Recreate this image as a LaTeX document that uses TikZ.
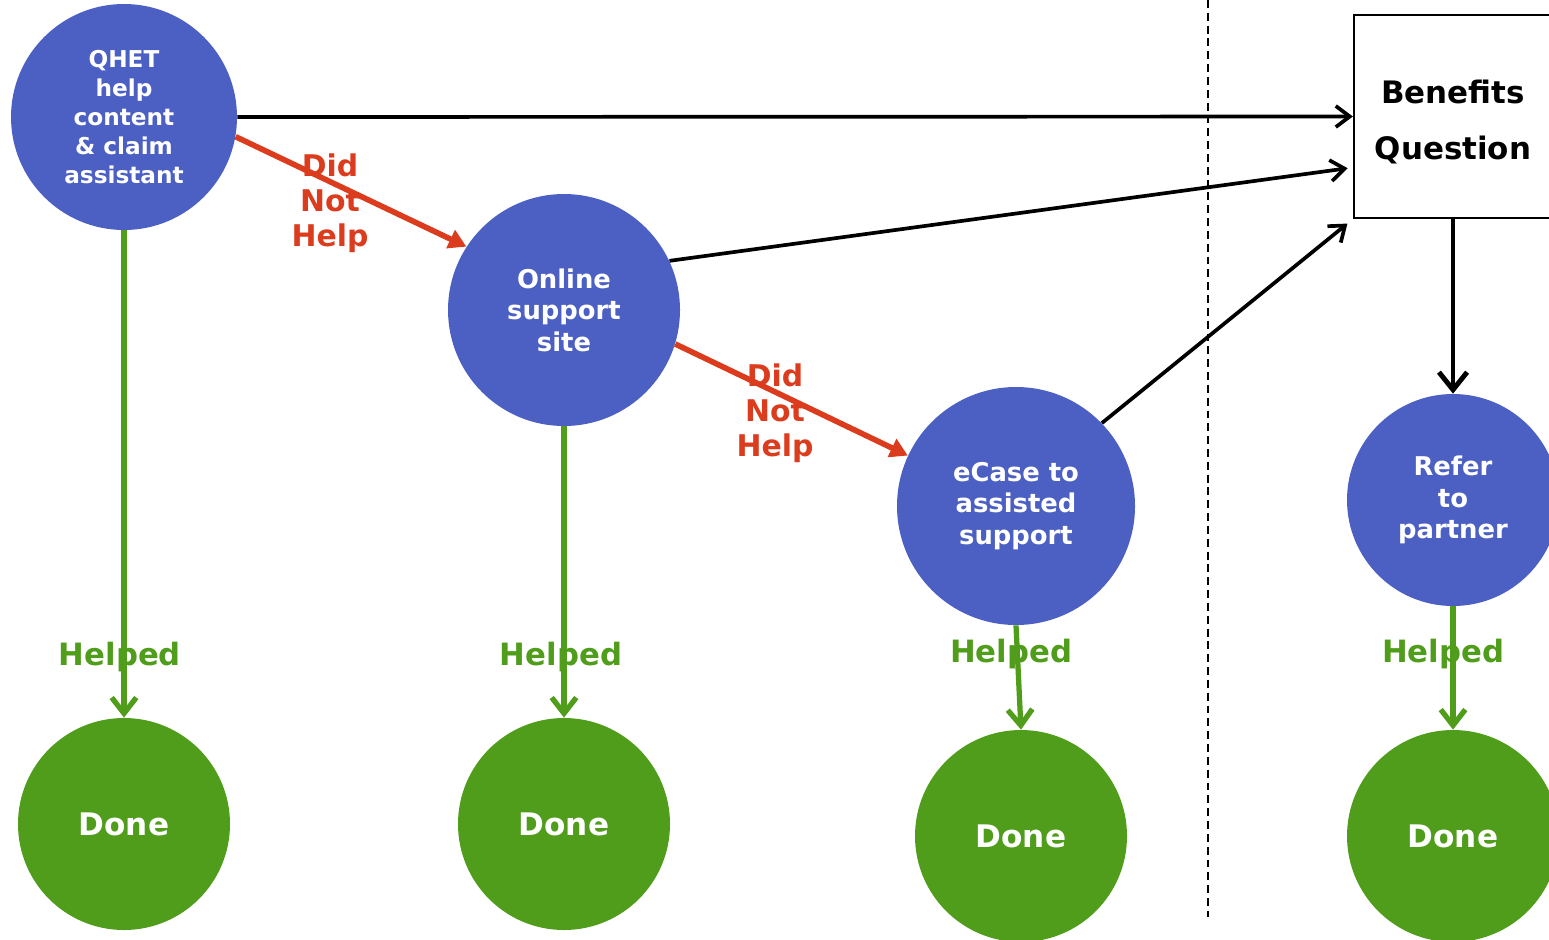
\documentclass[tikz,border=0pt]{standalone}
\usepackage{fontspec}
\setmainfont{DejaVu Sans}
\usetikzlibrary{arrows.meta}
\definecolor{stepblue}{RGB}{75,96,194}
\definecolor{donegreen}{RGB}{80,157,28}
\definecolor{nothelp}{RGB}{220,60,30}

\begin{document}
\begin{tikzpicture}[
  every node/.style={font=\bfseries, align=center},
  stepnode/.style={circle, fill=stepblue, text=white, minimum size=#1, inner sep=0pt, font=\bfseries\fontsize{14.7}{18}\selectfont},
  donenode/.style={circle, fill=donegreen, text=white, minimum size=4.24cm, inner sep=0pt, font=\bfseries\fontsize{17.7}{21}\selectfont},
  helpedlabel/.style={text=donegreen, font=\bfseries\fontsize{17.5}{20}\selectfont},
  notlabel/.style={text=nothelp, font=\bfseries\fontsize{17}{20}\selectfont},
  helpedline/.style={draw=donegreen, line width=3pt, -{Straight Barb[length=9pt,width=14pt]}},
  notline/.style={draw=nothelp, line width=3.2pt, -{Triangle[length=10pt,width=11pt]}},
  askline/.style={draw=black, line width=2.1pt, -{Straight Barb[length=8pt,width=12pt]}}
]
  \useasboundingbox (0,0) rectangle (30.98,-18.78);

  \node[stepnode=4.52cm, font=\bfseries\fontsize{13.2}{16.5}\selectfont] (qhet) at (2.48,-2.34) {QHET\\help\\content\\\& claim\\assistant};
  \node[stepnode=4.64cm] (online) at (11.28,-6.2) {Online\\support\\site};
  \node[stepnode=4.76cm] (ecase) at (20.32,-10.12) {eCase to\\assisted\\support};
  \node[stepnode=4.24cm] (refer) at (29.06,-10.0) {Refer\\to\\partner};
  \node[draw, line width=1.3pt, minimum width=3.96cm, minimum height=4.06cm, font=\bfseries\fontsize{17.6}{32}\selectfont] (benefits) at (29.06,-2.33) {\rule{0pt}{20pt}Benefits\\Question};

  \node[donenode] (done1) at (2.48,-16.48) {Done};
  \node[donenode] (done2) at (11.28,-16.48) {Done};
  \node[donenode] (done3) at (20.42,-16.72) {Done};
  \node[donenode] (done4) at (29.06,-16.72) {Done};

  \coordinate (divtop) at (24.16,0);
  \coordinate (divbot) at (24.16,-18.34);
  \draw[line width=1.1pt, dash pattern=on 4.5pt off 2.8pt] (divtop) -- (divbot);

  \draw[askline] (qhet.east) -- (benefits.west);
  \draw[askline, shorten >=3pt] (online.25) -- (benefits.207);
  \draw[askline, shorten >=4pt] (ecase.44) -- (benefits.south west);
  \draw[draw=black, line width=2.8pt, -{Straight Barb[length=10pt,width=16pt]}] (benefits.south) -- (refer.north);

  \draw[notline] (qhet.-10) -- (online.147);
  \draw[notline] (online.-17) -- (ecase.155);

  \draw[helpedline] (qhet.south) -- (done1.north);
  \draw[helpedline] (online.south) -- (done2.north);
  \draw[helpedline] (ecase.south) -- (done3.north);
  \draw[helpedline] (refer.south) -- (done4.north);

  \node[notlabel] (nothelp1) at (6.6,-4.06) {Did\\Not\\Help};
  \node[notlabel] (nothelp2) at (15.5,-8.26) {Did\\Not\\Help};
  \node[helpedlabel] (helped1) at (2.4,-13.14) {Helped};
  \node[helpedlabel] (helped2) at (11.22,-13.14) {Helped};
  \node[helpedlabel] (helped3) at (20.22,-13.08) {Helped};
  \node[helpedlabel] (helped4) at (28.86,-13.08) {Helped};
\end{tikzpicture}
\end{document}
